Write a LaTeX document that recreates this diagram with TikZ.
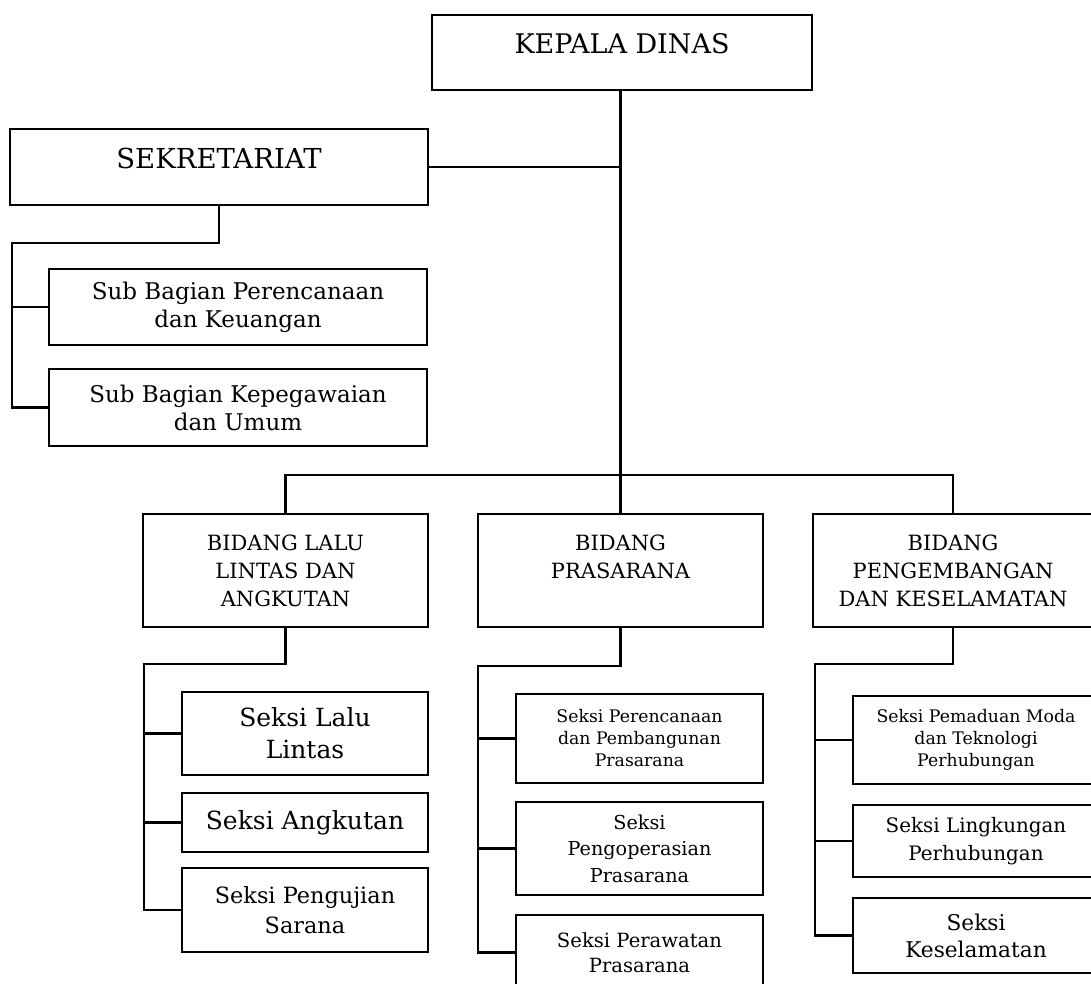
\documentclass[tikz,border=0pt]{standalone}
\usepackage{fontspec}
\setmainfont{DejaVu Serif}
\usepackage{tikz}

\newcommand{\fs}[2]{\fontsize{#1}{#2}\selectfont}

\tikzset{
    box/.style={draw, rectangle, line width=2.5pt, inner sep=0pt},
    unit/.style={box, align=center},
    link/.style={line width=2.5pt}
}

\begin{document}
\begin{tikzpicture}[x=1pt, y=-1pt]

\useasboundingbox (0,0) rectangle (1091,984);
\clip (0,0) rectangle (1091,984);

% Top level
\node[box, minimum width=380pt, minimum height=75pt, text depth=18pt, font=\fs{27}{34}] (kepala) at (622,52.5) {KEPALA DINAS};
\node[box, minimum width=418pt, minimum height=76pt, text depth=18pt, font=\fs{27.5}{34}] (sekr) at (219,167) {SEKRETARIAT};

% Sub bagian
\node[unit, minimum width=378pt, minimum height=76pt, font=\fs{23}{28}] (subren) at (238,307) {Sub Bagian Perencanaan\\dan Keuangan};
\node[unit, minimum width=378pt, minimum height=77pt, font=\fs{23}{28}] (subpeg) at (238,407.5) {Sub Bagian Kepegawaian\\dan Umum};

% Bidang
\node[unit, minimum width=285pt, minimum height=113pt, font=\fs{21}{28}] (lla) at (285.5,570.5) {BIDANG LALU\\LINTAS DAN\\ANGKUTAN};
\node[unit, minimum width=285pt, minimum height=113pt, font=\fs{21}{28}] (pras) at (620.5,570.5) {BIDANG\\PRASARANA\\~};
\node[unit, minimum width=280pt, minimum height=113pt, font=\fs{21}{28}] (pk) at (953,570.5) {BIDANG\\PENGEMBANGAN\\DAN KESELAMATAN};

% Seksi lalu lintas dan angkutan
\node[unit, minimum width=246pt, minimum height=83pt, font=\fs{25}{32}] (lalin) at (305,733.5) {Seksi Lalu\\Lintas};
\node[unit, minimum width=246pt, minimum height=59pt, font=\fs{25}{32}] (angk) at (305,822.5) {Seksi Angkutan};
\node[unit, minimum width=246pt, minimum height=84pt, font=\fs{22.4}{30}] (uji) at (305,910) {Seksi Pengujian\\Sarana};

% Seksi prasarana
\node[unit, minimum width=247pt, minimum height=89pt, font=\fs{17.3}{22}] (bangun) at (639.5,738.5) {Seksi Perencanaan\\dan Pembangunan\\Prasarana};
\node[unit, minimum width=247pt, minimum height=93pt, font=\fs{19.2}{26.5}] (ops) at (639.5,848.5) {Seksi\\Pengoperasian\\Prasarana};
\node[unit, minimum width=247pt, minimum height=75pt, font=\fs{19.6}{25}] (rawat) at (639.5,952.5) {Seksi Perawatan\\Prasarana};

% Seksi pengembangan dan keselamatan
\node[unit, minimum width=246pt, minimum height=88pt, font=\fs{17.3}{22}] (moda) at (976,740) {Seksi Pemaduan Moda\\dan Teknologi\\Perhubungan};
\node[unit, minimum width=246pt, minimum height=72pt, font=\fs{19.9}{28}] (lingk) at (976,841) {Seksi Lingkungan\\Perhubungan};
\node[unit, minimum width=246pt, minimum height=75pt, font=\fs{21.7}{27}] (selamat) at (976,935.5) {Seksi\\Keselamatan};

% Bus points
\coordinate (sekrbus) at (12,243);
\coordinate (llabus) at (144,664);
\coordinate (prasbus) at (478,666);
\coordinate (pkbus) at (815,664);

% Edges
\draw[link] (pras.north) -- (pras.north |- kepala.south);
\draw[link] (sekr.east) -- (sekr.east -| pras.north);
\draw[link] (lla.north) |- (pras.north |- 0,475) -| (pk.north);

\draw[link] (sekr.south) |- (sekrbus) |- (subpeg.west);
\draw[link] (sekrbus |- subren.west) -- (subren.west);

\draw[link] (lla.south) |- (llabus) |- (uji.west);
\draw[link] (llabus |- lalin.west) -- (lalin.west);
\draw[link] (llabus |- angk.west) -- (angk.west);

\draw[link] (pras.south) |- (prasbus) |- (rawat.west);
\draw[link] (prasbus |- bangun.west) -- (bangun.west);
\draw[link] (prasbus |- ops.west) -- (ops.west);

\draw[link] (pk.south) |- (pkbus) |- (selamat.west);
\draw[link] (pkbus |- moda.west) -- (moda.west);
\draw[link] (pkbus |- lingk.west) -- (lingk.west);

\end{tikzpicture}
\end{document}
